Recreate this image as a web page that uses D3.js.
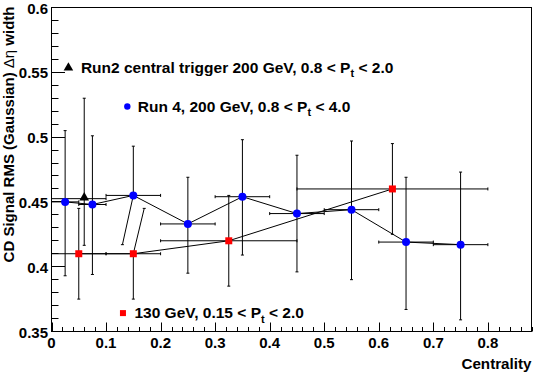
<!DOCTYPE html>
<html>
<head>
<meta charset="utf-8">
<script src="https://cdn.jsdelivr.net/npm/d3@7"></script>
<style>
    body { margin: 0; background: white; }
    text { font-family: "Liberation Sans", Arial, Helvetica, sans-serif; font-weight: bold; }
</style>
</head>
<body>
<div id="chart"></div>
<script>
// Run 4, 200 GeV, 0.8 < Pt < 4.0 (blue circles)
const run4X      = [0.025, 0.075, 0.15, 0.25, 0.35, 0.45, 0.55, 0.65, 0.75];
const run4Y      = [0.450, 0.448, 0.455, 0.433, 0.454, 0.441, 0.444, 0.419, 0.417];
const run4XErr   = [0.025, 0.025, 0.05, 0.05, 0.05, 0.05, 0.05, 0.05, 0.05];
const run4YErrHi = [0.055, 0.053, 0.038, 0.036, 0.044, 0.045, 0.053, 0.050, 0.056];
const run4YErrLo = [0.057, 0.054, 0.038, 0.038, 0.045, 0.045, 0.054, 0.052, 0.058];
// lower error bar end is shifted sideways for one point in the original plot
const run4LoShift = [0, 0, -0.02, 0, 0, 0, 0, 0, 0];

// 130 GeV, 0.15 < Pt < 2.0 (red squares)
const gev130X     = [0.05, 0.15, 0.325, 0.625];
const gev130Y     = [0.410, 0.410, 0.420, 0.460];
const gev130XErr  = [0.05, 0.05, 0.125, 0.175];
const gev130YErr  = [0.035, 0.035, 0.035, 0.035];
const gev130HiShift = [0, 0.02, 0, 0];

// Run2 central trigger 200 GeV, 0.8 < Pt < 2.0 (black triangle)
const run2X = [0.06];
const run2Y = [0.4525];
const run2XErrLo = [0.06];
const run2XErrHi = [0.04];
const run2YErrLo = [0.036];
const run2YErrHi = [0.0775];

const xTicks = [0, 0.1, 0.2, 0.3, 0.4, 0.5, 0.6, 0.7, 0.8];
const yTicks = [0.35, 0.4, 0.45, 0.5, 0.55, 0.6];

const ctx = {
    W: 535,
    H: 374,
    left: 51.5,
    right: 531.5,
    top: 7.5,
    bottom: 331.5,
    CAP: 1.5,
};

function createViz() {
    const svgEl = d3.select("#chart").append("svg")
        .attr("width", ctx.W)
        .attr("height", ctx.H);

    const x = d3.scaleLinear().domain([0, 0.88]).range([ctx.left, ctx.right]);
    const y = d3.scaleLinear().domain([0.35, 0.6]).range([ctx.bottom, ctx.top]);

    // frame
    svgEl.append("rect")
        .attr("x", ctx.left).attr("y", ctx.top)
        .attr("width", ctx.right - ctx.left).attr("height", ctx.bottom - ctx.top)
        .attr("fill", "none").attr("stroke", "black");

    // x axis ticks (major every 0.1, minor every 0.02)
    const xMinor = d3.range(0, 0.881, 0.02).map(v => +v.toFixed(2));
    const gx = svgEl.append("g").attr("id", "xaxis");
    gx.selectAll("line")
        .data(xMinor)
        .enter()
        .append("line")
        .attr("x1", d => Math.round(x(d)) + 0.5).attr("x2", d => Math.round(x(d)) + 0.5)
        .attr("y1", ctx.bottom)
        .attr("y2", d => ctx.bottom - (xTicks.some(t => Math.abs(t - d) < 1e-6) ? 9 : 4.5))
        .attr("stroke", "black");
    gx.selectAll("text")
        .data(xTicks)
        .enter()
        .append("text")
        .attr("x", d => x(d))
        .attr("y", 347.5)
        .attr("text-anchor", "middle")
        .attr("font-size", 15)
        .text(d => d === 0 ? "0" : d3.format(".1f")(d));

    // y axis ticks (major every 0.05, minor every 0.01)
    const yMinor = d3.range(0.35, 0.6001, 0.01).map(v => +v.toFixed(2));
    const gy = svgEl.append("g").attr("id", "yaxis");
    gy.selectAll("line")
        .data(yMinor)
        .enter()
        .append("line")
        .attr("y1", d => Math.round(y(d) - 0.5) + 0.5).attr("y2", d => Math.round(y(d) - 0.5) + 0.5)
        .attr("x1", ctx.left)
        .attr("x2", d => ctx.left + (yTicks.some(t => Math.abs(t - d) < 1e-6) ? 13.5 : 7))
        .attr("stroke", "black");
    gy.selectAll("text")
        .data(yTicks)
        .enter()
        .append("text")
        .attr("x", 48)
        .attr("y", d => y(d) + 6)
        .attr("text-anchor", "end")
        .attr("font-size", 15)
        .text(d => d3.format(".2~f")(d));

    // axis titles
    svgEl.append("text")
        .attr("x", ctx.right).attr("y", 369)
        .attr("text-anchor", "end")
        .attr("font-size", 15.2)
        .text("Centrality");
    const yTitle = svgEl.append("text")
        .attr("transform", "translate(13.5,6.5) rotate(-90)")
        .attr("text-anchor", "end")
        .attr("font-size", 15);
    yTitle.append("tspan").text("CD Signal RMS (Gaussian) ");
    yTitle.append("tspan").attr("font-weight", "normal").text("Δη");
    yTitle.append("tspan").text(" width");

    // build point tables
    const run4 = run4X.map((v, i) => ({
        x: v, y: run4Y[i], xlo: run4XErr[i], xhi: run4XErr[i],
        ylo: run4YErrLo[i], yhi: run4YErrHi[i], loShift: run4LoShift[i], hiShift: 0
    }));
    const gev130 = gev130X.map((v, i) => ({
        x: v, y: gev130Y[i], xlo: gev130XErr[i], xhi: gev130XErr[i],
        ylo: gev130YErr[i], yhi: gev130YErr[i], loShift: 0, hiShift: gev130HiShift[i]
    }));
    const run2 = run2X.map((v, i) => ({
        x: v, y: run2Y[i], xlo: run2XErrLo[i], xhi: run2XErrHi[i],
        ylo: run2YErrLo[i], yhi: run2YErrHi[i], loShift: 0, hiShift: 0
    }));

    const lineGen = d3.line().x(d => x(d.x)).y(d => y(d.y));

    function drawErrors(g, data) {
        const c = ctx.CAP;
        data.forEach(d => {
            const px = x(d.x), py = y(d.y);
            const segs = [
                // horizontal bar + caps
                [x(d.x - d.xlo), py, x(d.x + d.xhi), py],
                [x(d.x - d.xlo), py - c, x(d.x - d.xlo), py + c],
                [x(d.x + d.xhi), py - c, x(d.x + d.xhi), py + c],
                // upper bar + cap
                [px, py, x(d.x + d.hiShift), y(d.y + d.yhi)],
                [x(d.x + d.hiShift) - c, y(d.y + d.yhi), x(d.x + d.hiShift) + c, y(d.y + d.yhi)],
                // lower bar + cap
                [px, py, x(d.x + d.loShift), y(d.y - d.ylo)],
                [x(d.x + d.loShift) - c, y(d.y - d.ylo), x(d.x + d.loShift) + c, y(d.y - d.ylo)],
            ];
            g.selectAll(null)
                .data(segs)
                .enter()
                .append("line")
                .attr("x1", s => s[0]).attr("y1", s => s[1])
                .attr("x2", s => s[2]).attr("y2", s => s[3])
                .attr("stroke", "black")
                .attr("stroke-width", 1);
        });
    }

    const gErr = svgEl.append("g").attr("id", "errors");
    drawErrors(gErr, run4);
    drawErrors(gErr, gev130);
    drawErrors(gErr, run2);

    svgEl.append("path").datum(run4)
        .attr("d", lineGen).attr("fill", "none").attr("stroke", "black");
    svgEl.append("path").datum(gev130)
        .attr("d", lineGen).attr("fill", "none").attr("stroke", "black");

    // markers
    svgEl.append("g").attr("id", "run4")
        .selectAll("circle")
        .data(run4)
        .enter()
        .append("circle")
        .attr("cx", d => x(d.x)).attr("cy", d => y(d.y))
        .attr("r", 4)
        .attr("fill", "blue");

    svgEl.append("g").attr("id", "gev130")
        .selectAll("rect")
        .data(gev130)
        .enter()
        .append("rect")
        .attr("x", d => x(d.x) - 3.5).attr("y", d => y(d.y) - 3.5)
        .attr("width", 7).attr("height", 7)
        .attr("fill", "red");

    const tri = d3.symbol().type(d3.symbolTriangle).size(40);
    svgEl.append("g").attr("id", "run2")
        .selectAll("path")
        .data(run2)
        .enter()
        .append("path")
        .attr("d", tri)
        .attr("transform", d => `translate(${x(d.x)},${y(d.y) - 1})`)
        .attr("fill", "black");

    // legend entries (TLatex style labels placed in data coordinates)
    const legend = [
        { mx: 0.031, my: 0.5535, dx: 12.5, kind: "tri", color: "black", pre: "Run2 central trigger 200 GeV, 0.8 < P", post: " < 2.0" },
        { mx: 0.139, my: 0.5236, dx: 10.5, kind: "circ", color: "blue", pre: "Run 4, 200 GeV, 0.8 < P", post: " < 4.0" },
        { mx: 0.131, my: 0.3642, dx: 11.5, kind: "sq", color: "red", pre: "130 GeV, 0.15 < P", post: " < 2.0" },
    ];
    const gLeg = svgEl.append("g").attr("id", "legend");
    legend.forEach(l => {
        const lx = x(l.mx), ly = y(l.my);
        if (l.kind === "tri") {
            gLeg.append("path").attr("d", d3.symbol().type(d3.symbolTriangle).size(40))
                .attr("transform", `translate(${lx},${ly})`).attr("fill", l.color);
        } else if (l.kind === "circ") {
            gLeg.append("circle").attr("cx", lx).attr("cy", ly).attr("r", 3.2).attr("fill", l.color);
        } else {
            gLeg.append("rect").attr("x", lx - 3).attr("y", ly - 3)
                .attr("width", 6).attr("height", 6).attr("fill", l.color);
        }
        const t = gLeg.append("text")
            .attr("x", lx + l.dx).attr("y", ly + 5)
            .attr("font-size", 15.5);
        t.append("tspan").text(l.pre);
        t.append("tspan").attr("font-size", 11).attr("dy", 4.5).text("t");
        t.append("tspan").attr("dy", -4.5).text(l.post);
    });
}

createViz();
</script>
</body>
</html>
